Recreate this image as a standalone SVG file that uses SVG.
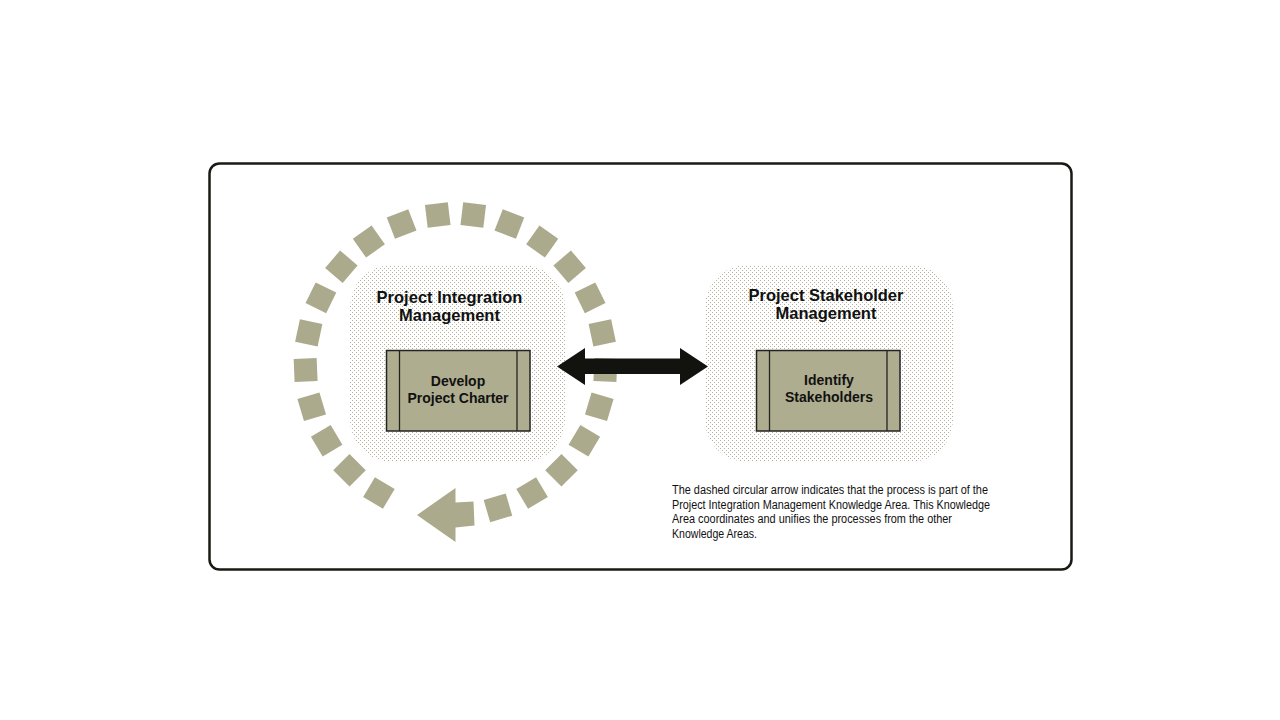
<svg xmlns="http://www.w3.org/2000/svg" xmlns:xlink="http://www.w3.org/1999/xlink" width="1280" height="720" viewBox="0 0 1280 720">
  <defs>
    <pattern id="stipple" x="0" y="0" width="4" height="4" patternUnits="userSpaceOnUse">
      <rect x="0" y="0" width="1" height="1" fill="#b4b29a"/>
      <rect x="2" y="2" width="1" height="1" fill="#b4b29a"/>
    </pattern>
    <rect id="sq" x="444" y="202.5" width="23" height="23" fill="#acaa8c"/>
    <style>
      .title { font-family: "Liberation Sans", Arial, sans-serif; font-weight: bold; font-size: 16.5px; fill: #111; text-anchor: middle; }
      .proc { font-family: "Liberation Sans", Arial, sans-serif; font-weight: bold; font-size: 14px; fill: #111; text-anchor: middle; }
      .note { font-family: "Liberation Sans Narrow", "Liberation Sans", Arial, sans-serif; font-size: 12.5px; fill: #111; }
      .box { fill: #afad8f; stroke: #222; stroke-width: 1.5; }
      .div { stroke: #222; stroke-width: 1.3; }
      .area { fill: url(#stipple); }
    </style>
  </defs>
  <rect width="1280" height="720" fill="#ffffff"/>

  <!-- frame -->
  <rect x="209.5" y="163.5" width="862" height="406" rx="10" ry="10" fill="none" stroke="#1a1a14" stroke-width="2.5"/>

  <!-- knowledge area backgrounds -->
  <g id="area-integration">
    <rect class="area" x="350" y="265" width="215" height="197" rx="42" ry="42"/>
  </g>
  <g id="area-stakeholder">
    <rect class="area" x="705" y="265" width="248" height="197" rx="42" ry="42"/>
  </g>

  <!-- dashed circular arrow -->
  <g id="integration-cycle">
    <use xlink:href="#sq" transform="rotate(6.8 455.5 364)"/>
    <use xlink:href="#sq" transform="rotate(21.05 455.5 364)"/>
    <use xlink:href="#sq" transform="rotate(35.3 455.5 364)"/>
    <use xlink:href="#sq" transform="rotate(49.55 455.5 364)"/>
    <use xlink:href="#sq" transform="rotate(63.8 455.5 364)"/>
    <use xlink:href="#sq" transform="rotate(78.05 455.5 364)"/>
    <use xlink:href="#sq" transform="rotate(92.3 455.5 364)"/>
    <use xlink:href="#sq" transform="rotate(106.55 455.5 364)"/>
    <use xlink:href="#sq" transform="rotate(120.8 455.5 364)"/>
    <use xlink:href="#sq" transform="rotate(135.05 455.5 364)"/>
    <use xlink:href="#sq" transform="rotate(149.3 455.5 364)"/>
    <use xlink:href="#sq" transform="rotate(163.55 455.5 364)"/>
    <use xlink:href="#sq" transform="rotate(-6.8 455.5 364)"/>
    <use xlink:href="#sq" transform="rotate(-21.05 455.5 364)"/>
    <use xlink:href="#sq" transform="rotate(-35.3 455.5 364)"/>
    <use xlink:href="#sq" transform="rotate(-49.55 455.5 364)"/>
    <use xlink:href="#sq" transform="rotate(-63.8 455.5 364)"/>
    <use xlink:href="#sq" transform="rotate(-78.05 455.5 364)"/>
    <use xlink:href="#sq" transform="rotate(-92.3 455.5 364)"/>
    <use xlink:href="#sq" transform="rotate(-106.55 455.5 364)"/>
    <use xlink:href="#sq" transform="rotate(-120.8 455.5 364)"/>
    <use xlink:href="#sq" transform="rotate(-135.05 455.5 364)"/>
    <use xlink:href="#sq" transform="rotate(-149.3 455.5 364)"/>
    <polygon points="417,515 455.5,488 455.5,502.5 473.5,501.5 474.5,525.5 455.5,527.5 455.5,542" fill="#acaa8c"/>
  </g>

  <!-- titles -->
  <g id="title-integration">
    <text class="title" x="449.5" y="303">Project Integration</text>
    <text class="title" x="449.5" y="321">Management</text>
  </g>
  <g id="title-stakeholder">
    <text class="title" x="826" y="301">Project Stakeholder</text>
    <text class="title" x="826" y="319">Management</text>
  </g>

  <!-- process nodes -->
  <g id="develop-project-charter">
    <rect class="box" x="386.5" y="350.5" width="143.5" height="80.5"/>
    <line class="div" x1="399.5" y1="350.5" x2="399.5" y2="431"/>
    <line class="div" x1="517" y1="350.5" x2="517" y2="431"/>
    <text class="proc" x="458" y="386">Develop</text>
    <text class="proc" x="458" y="403">Project Charter</text>
  </g>
  <g id="identify-stakeholders">
    <rect class="box" x="756.5" y="350.5" width="143.5" height="80.5"/>
    <line class="div" x1="769.5" y1="350.5" x2="769.5" y2="431"/>
    <line class="div" x1="887" y1="350.5" x2="887" y2="431"/>
    <text class="proc" x="829" y="385">Identify</text>
    <text class="proc" x="829" y="402">Stakeholders</text>
  </g>

  <!-- connectors -->
  <g id="connectors">
    <polygon points="557,366.5 585,348 585,358.5 680,358.5 680,348 708,366.5 680,385 680,374 585,374 585,385" fill="#12120e"/>
  </g>

  <!-- note -->
  <g id="note">
    <text class="note" x="672" y="494" textLength="316" lengthAdjust="spacingAndGlyphs">The dashed circular arrow indicates that the process is part of the</text>
    <text class="note" x="672" y="508.5" textLength="318" lengthAdjust="spacingAndGlyphs">Project Integration Management Knowledge Area. This Knowledge</text>
    <text class="note" x="672" y="523" textLength="280" lengthAdjust="spacingAndGlyphs">Area coordinates and unifies the processes from the other</text>
    <text class="note" x="672" y="537.5" textLength="85" lengthAdjust="spacingAndGlyphs">Knowledge Areas.</text>
  </g>
</svg>
